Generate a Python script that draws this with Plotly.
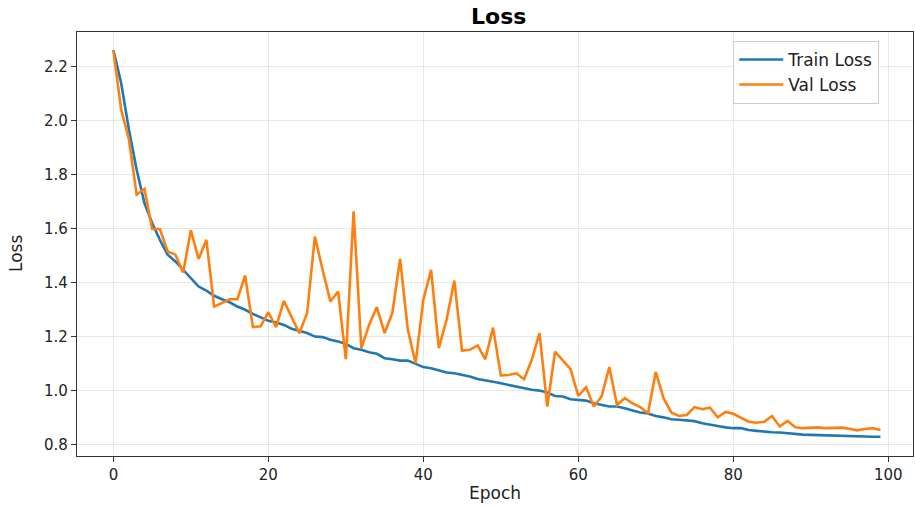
import plotly.graph_objects as go

epochs = list(range(100))

train_loss = [
    2.260, 2.138, 1.966, 1.817, 1.694, 1.620, 1.558, 1.503, 1.478, 1.447,
    1.420, 1.385, 1.370, 1.351, 1.338, 1.327, 1.311, 1.299, 1.284, 1.272,
    1.258, 1.252, 1.243, 1.229, 1.220, 1.213, 1.200, 1.198, 1.188, 1.182,
    1.173, 1.157, 1.151, 1.142, 1.136, 1.120, 1.116, 1.111, 1.111, 1.099,
    1.087, 1.083, 1.074, 1.067, 1.064, 1.058, 1.052, 1.043, 1.039, 1.033,
    1.027, 1.021, 1.013, 1.008, 1.003, 1.000, 0.993, 0.980, 0.978, 0.968,
    0.966, 0.963, 0.953, 0.947, 0.941, 0.941, 0.935, 0.926, 0.919, 0.915,
    0.906, 0.901, 0.894, 0.892, 0.889, 0.887, 0.879, 0.873, 0.869, 0.864,
    0.861, 0.861, 0.854, 0.851, 0.848, 0.846, 0.845, 0.842, 0.840, 0.837,
    0.836, 0.835, 0.834, 0.833, 0.832, 0.830, 0.830, 0.829, 0.829, 0.829,
]

val_loss = [
    2.259, 2.040, 1.930, 1.725, 1.747, 1.598, 1.598, 1.515, 1.503, 1.437,
    1.593, 1.487, 1.558, 1.311, 1.324, 1.338, 1.338, 1.426, 1.235, 1.238,
    1.290, 1.235, 1.332, 1.274, 1.212, 1.287, 1.570, 1.447, 1.330, 1.367,
    1.116, 1.663, 1.157, 1.243, 1.309, 1.213, 1.287, 1.487, 1.225, 1.101,
    1.336, 1.447, 1.157, 1.262, 1.407, 1.148, 1.151, 1.167, 1.116, 1.233,
    1.056, 1.058, 1.064, 1.042, 1.114, 1.213, 0.941, 1.144, 1.111, 1.079,
    0.980, 1.013, 0.941, 0.978, 1.087, 0.947, 0.972, 0.953, 0.939, 0.916,
    1.069, 0.972, 0.919, 0.906, 0.910, 0.939, 0.931, 0.937, 0.901, 0.921,
    0.914, 0.901, 0.885, 0.881, 0.885, 0.906, 0.867, 0.888, 0.864, 0.861,
    0.863, 0.864, 0.861, 0.862, 0.863, 0.859, 0.853, 0.858, 0.861, 0.854,
]

x_ticks = [0, 20, 40, 60, 80, 100]
y_ticks = [0.8, 1.0, 1.2, 1.4, 1.6, 1.8, 2.0, 2.2]
y_tick_labels = ["0.8", "1.0", "1.2", "1.4", "1.6", "1.8", "2.0", "2.2"]

FONT = "DejaVu Sans"

fig = go.Figure()
fig.add_trace(go.Scatter(x=epochs, y=train_loss, mode="lines", name="Train Loss",
                         line=dict(color="#1f77b4", width=2.6)))
fig.add_trace(go.Scatter(x=epochs, y=val_loss, mode="lines", name="Val Loss",
                         line=dict(color="#ff7f0e", width=2.6)))

axis_common = dict(
    showline=True, linecolor="#333333", linewidth=1.3, mirror=True,
    ticks="outside", ticklen=5, tickwidth=1.2, tickcolor="#333333",
    showgrid=True, gridcolor="rgba(0,0,0,0.09)", gridwidth=1,
    zeroline=False,
    tickfont=dict(family=FONT, size=15, color="#222222"),
)

fig.update_layout(
    width=915, height=506,
    margin=dict(l=77, r=2, t=32, b=50),
    paper_bgcolor="white", plot_bgcolor="white",
    font=dict(family=FONT, color="#222222"),
    title=dict(text="<b>Loss</b>", x=0.545, xanchor="center",
               y=1 - 16 / 506, yanchor="middle", yref="container",
               font=dict(family=FONT, size=22, color="black")),
    xaxis=dict(range=[-4.7, 103.2], tickvals=x_ticks, **axis_common),
    yaxis=dict(range=[0.758, 2.327], tickvals=y_ticks, ticktext=y_tick_labels,
               **axis_common),
    legend=dict(x=0.785, y=0.979, xanchor="left", yanchor="top",
                bgcolor="rgba(255,255,255,0.85)", bordercolor="#cccccc",
                borderwidth=1, font=dict(family=FONT, size=17, color="#222222"),
                itemwidth=44, tracegroupgap=0),
    showlegend=True,
    annotations=[
        dict(text="Epoch", xref="paper", yref="paper", x=0.5, y=0,
             xanchor="center", yanchor="middle", yshift=-37, showarrow=False,
             font=dict(family=FONT, size=17, color="#222222")),
        dict(text="Loss", xref="paper", yref="paper", x=0, y=0.5,
             xanchor="center", yanchor="middle", xshift=-61, yshift=-10,
             textangle=-90, showarrow=False,
             font=dict(family=FONT, size=17, color="#222222")),
    ],
)

fig.write_html("out.html", config={"displayModeBar": False},
               post_script="document.body.style.margin='0';document.body.style.padding='0';")
